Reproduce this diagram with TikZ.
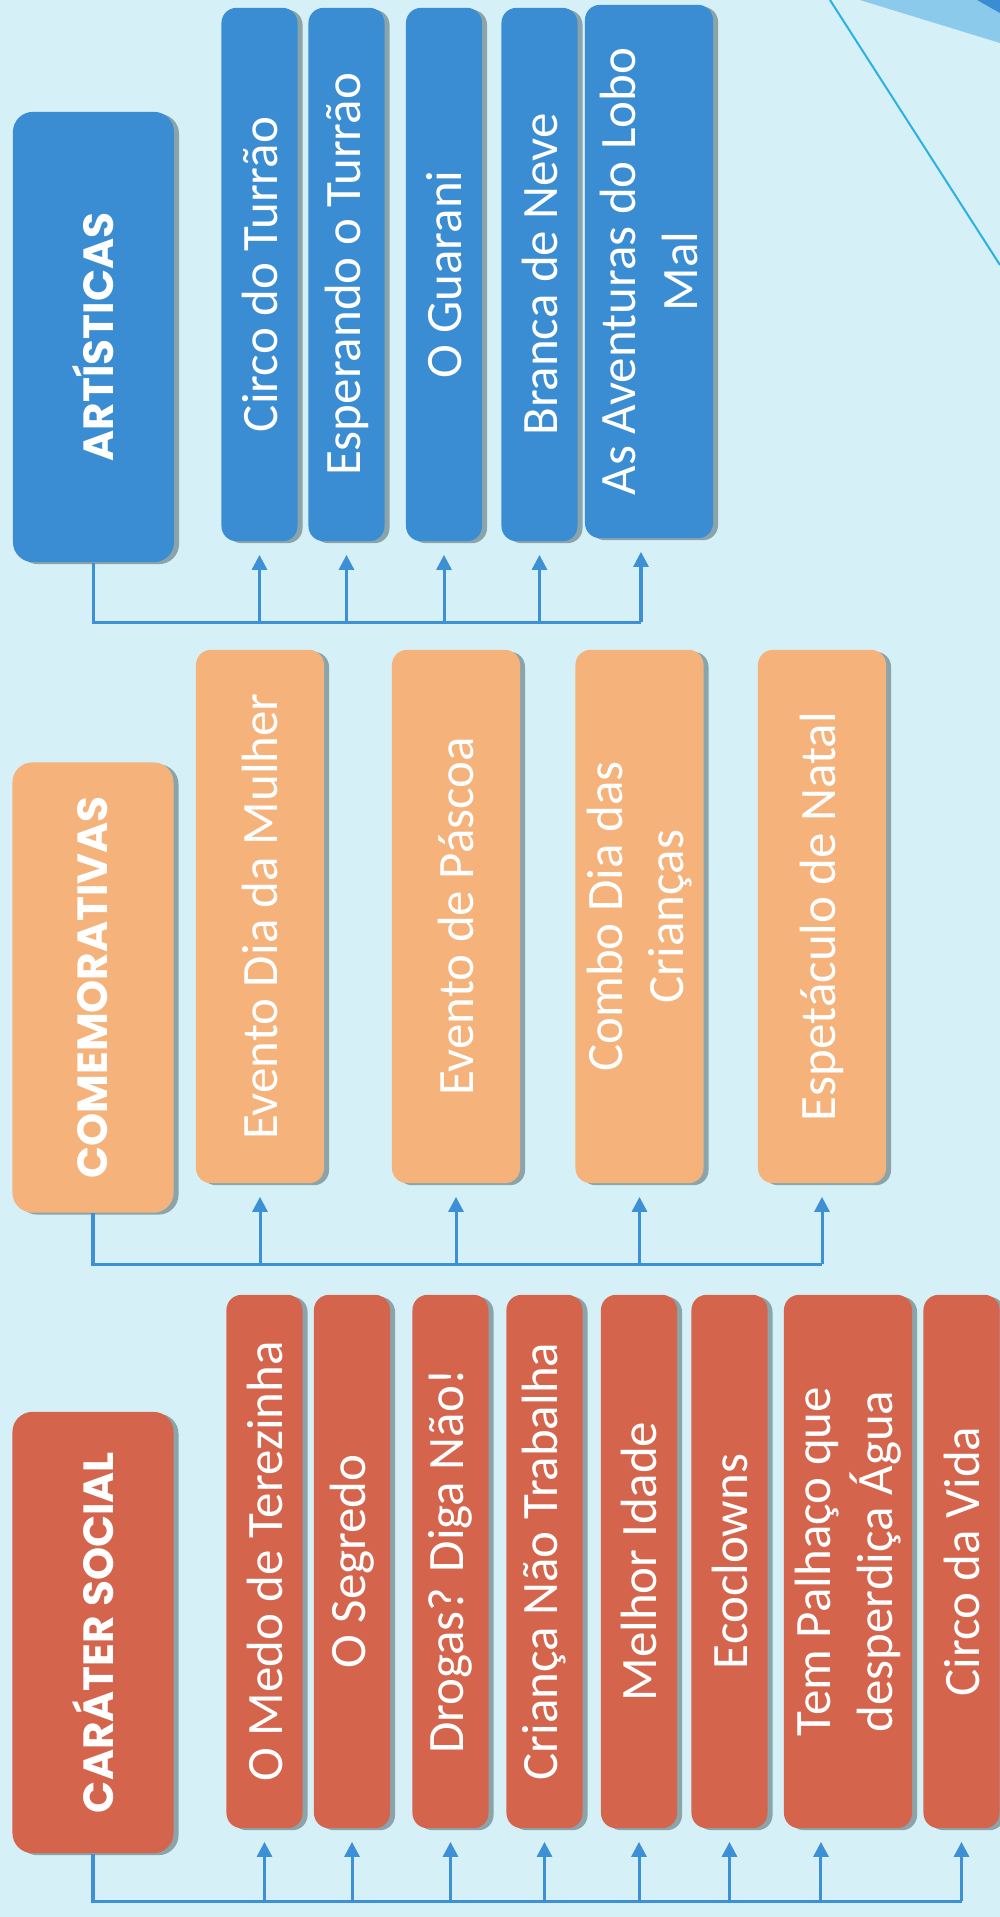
\documentclass[tikz,border=0pt]{standalone}
\usepackage{fontspec}
\setmainfont{Carlito}
\newfontfamily\hdfont{Poppins}
\usetikzlibrary{positioning, arrows.meta, shadows}
\definecolor{bgcyan}{RGB}{214,240,247}
\definecolor{artblue}{RGB}{58,141,210}
\definecolor{comorange}{RGB}{245,178,123}
\definecolor{socred}{RGB}{213,100,76}
\definecolor{linkblue}{RGB}{61,143,214}
\definecolor{paleblue}{RGB}{140,202,236}
\tikzset{box/.style = {rounded corners=0.15cm, rotate=90, text=white, align=center, inner sep=0pt,
                       font=\fontsize{14.5}{17.5}\selectfont,
                       drop shadow={shadow xshift=0.05cm, shadow yshift=-0.02cm, opacity=0.35, fill=black!80!teal}},
         head/.style = {box, rounded corners=0.2cm, minimum width=4.5cm, minimum height=1.61cm,
                        font=\hdfont\bfseries\fontsize{12}{14}\selectfont},
         item/.style = {box, minimum width=5.33cm, minimum height=0.76cm},
         wide/.style = {item, minimum height=1.28cm},
         art/.style = {fill=artblue},
         com/.style = {fill=comorange},
         soc/.style = {fill=socred},
         link/.style = {draw=linkblue, line width=0.03cm},
         arr/.style = {link, -{Triangle[length=0.15cm, width=0.15cm]}, shorten >=0.13cm}}
\begin{document}
\begin{tikzpicture}[x=0.01cm, y=-0.01cm]
        \useasboundingbox (0, 0) rectangle (1000, 1917);
        \fill [bgcyan] (0, 0) rectangle (1000, 1917);
        \fill [paleblue] (860, 0) -- (1000, 0) -- (1000, 43) -- cycle;
        \fill [artblue] (977, 0) -- (1000, 0) -- (1000, 13) -- cycle;
        \draw [linkblue!70!cyan, line width=0.02cm] (830, 0) -- (1000, 265);

        \node [head, art] (art) at (93.5,  337) {ARTÍSTICAS};
        \node [head, com] (com) at (93,  987.5) {COMEMORATIVAS};
        \node [head, soc, minimum width=4.41cm] (soc) at (93, 1632.5) {CARÁTER SOCIAL};

        \node [item, art] (a1) at (259.5, 274.5) {Circo do Turrão};
        \node [item, art] (a2) at (346.5, 274.5) {Esperando o Turrão};
        \node [item, art] (a3) at (444,   274.5) {O Guarani};
        \node [item, art] (a4) at (539.5, 274.5) {Branca de Neve};
        \node [wide, art] (a5) at (649,   271.5) {As Aventuras do Lobo\\Mal};

        \node [wide, com] (c1) at (260,   916.5) {Evento Dia da Mulher};
        \node [wide, com] (c2) at (456,   916.5) {Evento de Páscoa};
        \node [wide, com] (c3) at (639.5, 916.5) {Combo Dia das\\Crianças};
        \node [wide, com] (c4) at (822,   916.5) {Espetáculo de Natal};

        \node [item, soc] (s1) at (264.5, 1561.5) {O Medo de Terezinha};
        \node [item, soc] (s2) at (352,   1561.5) {O Segredo};
        \node [item, soc] (s3) at (450.5, 1561.5) {Drogas? Diga Não!};
        \node [item, soc] (s4) at (544.5, 1561.5) {Criança Não Trabalha};
        \node [item, soc] (s5) at (639,   1561.5) {Melhor Idade};
        \node [item, soc] (s6) at (729.5, 1561.5) {Ecoclowns};
        \node [wide, soc] (s7) at (848,   1561.5) {Tem Palhaço que\\desperdiça Água};
        \node [item, soc] (s8) at (961.5, 1561.5) {Circo da Vida};

        \coordinate (artbus) at (0, 622);
        \coordinate (combus) at (0, 1264);
        \coordinate (socbus) at (0, 1901);

        \draw [link] (art.west) |- ([xshift=-0.08cm]a5.west |- artbus);
        \draw [arr] (a1.west |- artbus) -- (a1.west);
        \draw [arr] (a2.west |- artbus) -- (a2.west);
        \draw [arr] (a3.west |- artbus) -- (a3.west);
        \draw [arr] (a4.west |- artbus) -- (a4.west);
        \draw [arr] ([xshift=-0.08cm]a5.west |- artbus) -- ([xshift=-0.08cm]a5.west);

        \draw [link] (com.west) |- (c4.west |- combus);
        \draw [arr] (c1.west |- combus) -- (c1.west);
        \draw [arr] (c2.west |- combus) -- (c2.west);
        \draw [arr] (c3.west |- combus) -- (c3.west);
        \draw [arr] (c4.west |- combus) -- (c4.west);

        \draw [link] (soc.west) |- (s8.west |- socbus);
        \draw [arr] (s1.west |- socbus) -- (s1.west);
        \draw [arr] (s2.west |- socbus) -- (s2.west);
        \draw [arr] (s3.west |- socbus) -- (s3.west);
        \draw [arr] (s4.west |- socbus) -- (s4.west);
        \draw [arr] (s5.west |- socbus) -- (s5.west);
        \draw [arr] (s6.west |- socbus) -- (s6.west);
        \draw [arr] ([xshift=-0.27cm]s7.west |- socbus) -- ([xshift=-0.27cm]s7.west);
        \draw [arr] (s8.west |- socbus) -- (s8.west);
    \end{tikzpicture}
\end{document}
